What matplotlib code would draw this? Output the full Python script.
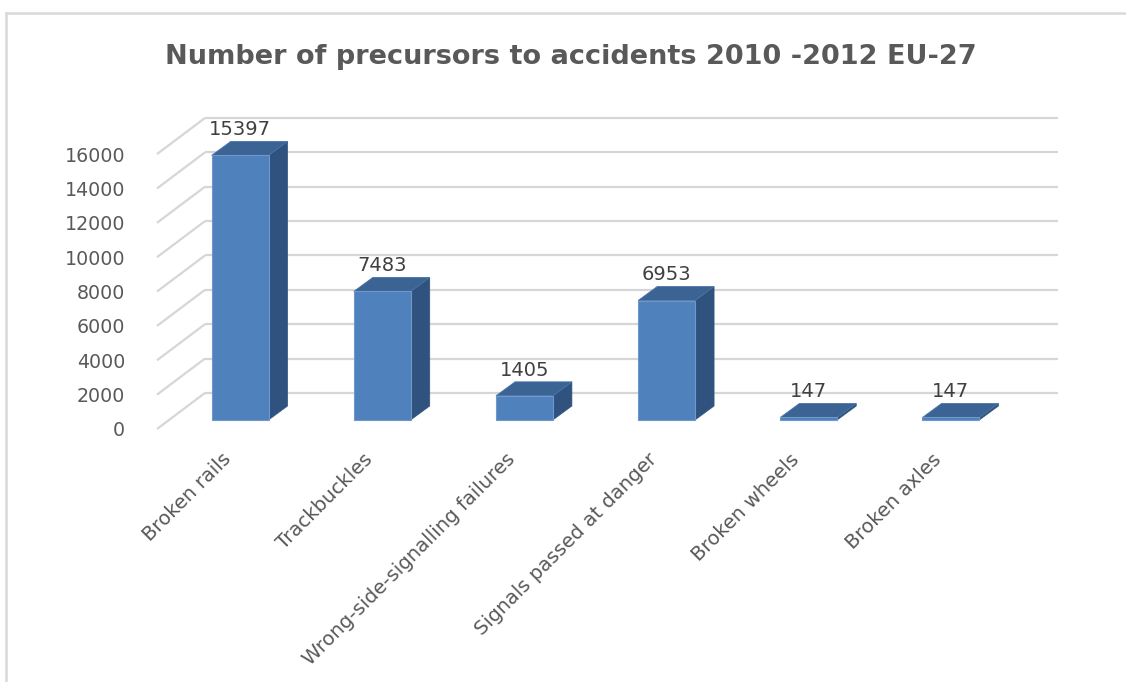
import matplotlib
matplotlib.use('Agg')
import matplotlib.pyplot as plt
from matplotlib.patches import Polygon
from matplotlib.lines import Line2D

categories = ['Broken rails', 'Trackbuckles', 'Wrong-side-signalling failures',
              'Signals passed at danger', 'Broken wheels', 'Broken axles']
counts = [15397, 7483, 1405, 6953, 147, 147]
y_ticks = [0, 2000, 4000, 6000, 8000, 10000, 12000, 14000, 16000]
title = 'Number of precursors to accidents 2010 -2012 EU-27'

# fake 3D geometry, in data units (x: category slots, y: counts)
DEPTH_X, DEPTH_Y = 0.3375, 2100      # full floor depth
BAR_W = 0.40                         # front face width
BAR_DX, BAR_DY = 0.134, 814          # bar depth
FRONT_F = 0.25                       # where the bar front sits along the depth
YMAX = y_ticks[-1] + DEPTH_Y

FRONT = '#4f81bd'
SIDE = '#30527f'
TOP = '#3b6495'
GRID = '#d6d6d6'
TEXT = '#595959'

plt.rcParams['font.family'] = ['DejaVu Sans']

W, H = 1126, 682
fig = plt.figure(figsize=(W / 100, H / 100), dpi=100)
ax = fig.add_axes([157 / W, (H - 429) / H, (1058 - 157) / W, (429 - 118) / H])
ax.set_xlim(0, len(categories) + DEPTH_X)
ax.set_ylim(0, YMAX)
for s in ax.spines.values():
    s.set_visible(False)
ax.set_xticks([])
ax.set_yticks(y_ticks)
ax.set_yticklabels([str(v) for v in y_ticks], fontsize=13.7, color=TEXT)
ax.tick_params(axis='y', length=0, pad=23)
ax.patch.set_alpha(0)

# back wall and side wall gridlines
right = len(categories) + DEPTH_X
for v in y_ticks:
    ax.plot([0, DEPTH_X], [v, v + DEPTH_Y], color=GRID, lw=1.6,
            solid_capstyle='butt', clip_on=False, zorder=1)
    ax.plot([DEPTH_X, right], [v + DEPTH_Y, v + DEPTH_Y], color=GRID, lw=1.6,
            solid_capstyle='butt', clip_on=False, zorder=1)

for i, (name, val) in enumerate(zip(categories, counts)):
    cx = i + 0.5 + FRONT_F * DEPTH_X
    x0, x1 = cx - BAR_W / 2, cx + BAR_W / 2
    y0 = FRONT_F * DEPTH_Y
    y1 = y0 + val
    side = [(x1, y0), (x1 + BAR_DX, y0 + BAR_DY), (x1 + BAR_DX, y1 + BAR_DY), (x1, y1)]
    top = [(x0, y1), (x1, y1), (x1 + BAR_DX, y1 + BAR_DY), (x0 + BAR_DX, y1 + BAR_DY)]
    front = [(x0, y0), (x1, y0), (x1, y1), (x0, y1)]
    ax.add_patch(Polygon(side, closed=True, fc=SIDE, ec=SIDE, lw=0.5, zorder=3, clip_on=False))
    ax.add_patch(Polygon(top, closed=True, fc=TOP, ec='#4a74a8', lw=0.6, zorder=3, clip_on=False))
    ax.add_patch(Polygon(front, closed=True, fc=FRONT, ec='#7097c9', lw=0.8, zorder=4, clip_on=False))
    ax.text(cx, y1 + BAR_DY + 120, str(val), ha='center', va='bottom',
            fontsize=14, color='#404040', zorder=5, clip_on=False)
    ax.text(cx - 0.085, -1600, name, rotation=45, rotation_mode='anchor',
            ha='right', va='center', fontsize=14.2, color=TEXT, clip_on=False)

fig.text(571 / W, 1 - 57 / H, title, ha='center', va='center',
         fontsize=19.5, fontweight='bold', color=TEXT)

# chart area frame (only top and left edges fall inside the image)
fig.add_artist(Line2D([6 / W, 6 / W], [0, 1 - 12.5 / H], transform=fig.transFigure,
                      color='#d9d9d9', lw=1.8))
fig.add_artist(Line2D([6 / W, 1], [1 - 12.5 / H, 1 - 12.5 / H], transform=fig.transFigure,
                      color='#d9d9d9', lw=1.8))

fig.savefig('out.png', dpi=100, facecolor='white')
